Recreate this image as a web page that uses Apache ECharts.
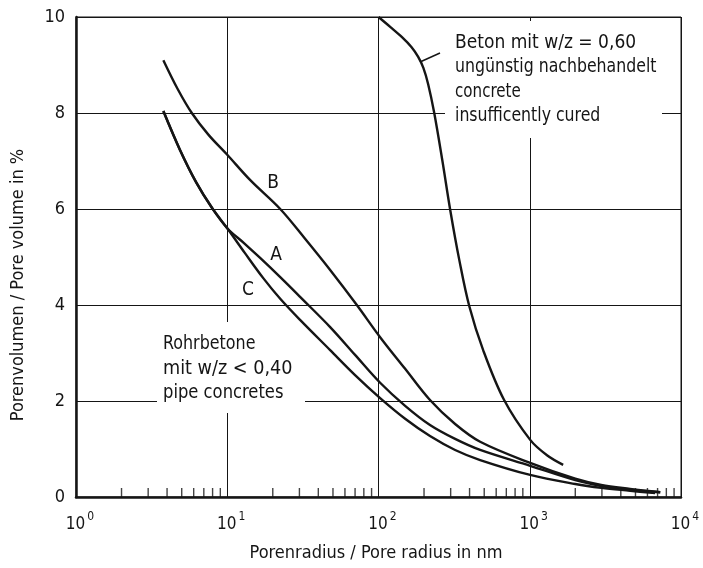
<!DOCTYPE html>
<html>
<head>
<meta charset="utf-8">
<script src="https://cdn.jsdelivr.net/npm/echarts@6/dist/echarts.min.js"></script>
<style>
html,body{margin:0;padding:0;background:#fff;}
#chart{width:703px;height:568px;}
</style>
</head>
<body>
<div id="chart"></div>
<script>
// ---- data (pore radius in nm, pore volume in %) ----
const radiusB = [3.78, 4.7, 5.83, 7.5, 10, 14.2, 22.4, 32.7, 47.9, 71.9, 102.5, 150, 219, 321, 470, 1006, 2000, 2970, 4610, 7290];
const volumeB = [9.10, 8.5, 8.0, 7.55, 7.13, 6.60, 6.0, 5.38, 4.73, 4.0, 3.33, 2.67, 2.02, 1.52, 1.15, 0.71, 0.38, 0.25, 0.17, 0.10];

const radiusA = [3.78, 4.87, 6.22, 7.94, 10, 12.9, 16.5, 22.4, 30.3, 47.9, 70, 102.5, 150, 219, 321, 470, 1006, 2000, 2970, 4610, 7290];
const volumeA = [8.04, 7.23, 6.56, 6.02, 5.6, 5.29, 4.98, 4.58, 4.17, 3.54, 2.96, 2.38, 1.90, 1.50, 1.21, 0.98, 0.65, 0.35, 0.23, 0.15, 0.10];

const radiusC = [3.78, 4.87, 6.22, 7.94, 10, 13.1, 17.3, 22.4, 30.3, 47.9, 70, 102.5, 150, 219, 321, 470, 1006, 2000, 2970, 4610, 6750];
const volumeC = [8.04, 7.23, 6.56, 6.02, 5.6, 5.08, 4.56, 4.13, 3.69, 3.06, 2.54, 2.06, 1.63, 1.27, 0.98, 0.77, 0.46, 0.27, 0.19, 0.13, 0.08];

const radiusD = [100, 120, 143, 165, 183, 198, 213, 233, 264, 298, 342, 398, 492, 677, 1007, 1300, 1663];
const volumeD = [10, 9.79, 9.58, 9.375, 9.17, 8.94, 8.6, 8.02, 7.02, 5.98, 4.94, 3.98, 3.06, 2.02, 1.19, 0.87, 0.67];

const minorTickRadii = [2,3,4,5,6,7,8,9, 20,30,40,50,60,70,80,90, 200,300,400,500,600,700,800,900, 2000,3000,4000,5000,6000,7000,8000,9000];

const yTicks = [0, 2, 4, 6, 8, 10];
const xTitle = 'Porenradius / Pore radius in nm';
const yTitle = 'Porenvolumen / Pore volume in %';
const noteBeton = ['Beton mit w/z = 0,60', 'ungünstig nachbehandelt', 'concrete', 'insufficently cured'];
const notePipe = ['Rohrbetone', 'mit w/z < 0,40', 'pipe concretes'];
const curveLabels = ['A', 'B', 'C'];

// ---- build ----
const pairs = (xs, ys) => xs.map((x, i) => [x, ys[i]]);
const INK = '#151515';
const FONT = "'DejaVu Sans Condensed', sans-serif";

const lineSeries = (name, data) => ({
  name, type: 'line', data, smooth: 0.35, showSymbol: false, symbol: 'none',
  lineStyle: { color: INK, width: 2.4 }, z: 3, clip: false
});

// per-line horizontal squeeze so the condensed face matches the original lettering widths
const betonScale = [0.95, 0.875, 0.84, 0.875];
const pipeScale = [0.885, 0.98, 0.91];
const noteLines = (lines, scales, x, yCenter0, step) => lines.map((t, i) => ({
  type: 'text', x, y: yCenter0 + i * step, scaleX: scales[i], z: 5,
  style: { text: t, font: '20px ' + FONT, fill: INK, verticalAlign: 'middle', align: 'left' }
}));

const chart = echarts.init(document.getElementById('chart'), null, { renderer: 'canvas' });
chart.setOption({
  animation: false,
  backgroundColor: '#fff',
  grid: { left: 76, right: 22, top: 17, bottom: 71, show: true, borderColor: INK, borderWidth: 1, backgroundColor: 'transparent' },
  xAxis: {
    type: 'log', logBase: 10, min: 1, max: 10000,
    axisLine: { show: true, lineStyle: { color: INK, width: 2.5 } },
    axisTick: { show: false },
    splitLine: { show: true, lineStyle: { color: INK, width: 1 } },
    axisLabel: {
      margin: 14,
      padding: [0, 0, 0, 8],
      formatter: v => '{b|10}{s|' + Math.round(Math.log10(v)) + '}',
      rich: {
        b: { fontFamily: FONT, fontSize: 17, color: INK, lineHeight: 22, verticalAlign: 'bottom' },
        s: { fontFamily: FONT, fontSize: 12, color: INK, lineHeight: 22, verticalAlign: 'top', padding: [0, 0, 0, 2] }
      }
    }
  },
  yAxis: {
    type: 'value', min: yTicks[0], max: yTicks[yTicks.length - 1], interval: 2,
    axisLine: { show: true, lineStyle: { color: INK, width: 2.5 } },
    axisTick: { show: false },
    splitLine: { show: true, lineStyle: { color: INK, width: 1 } },
    axisLabel: { margin: 11, fontFamily: FONT, fontSize: 18, color: INK }
  },
  series: [
    lineSeries('A', pairs(radiusA, volumeA)),
    lineSeries('B', pairs(radiusB, volumeB)),
    lineSeries('C', pairs(radiusC, volumeC)),
    lineSeries('Beton w/z 0,60', pairs(radiusD, volumeD)),
    {
      name: 'minor ticks', type: 'scatter', data: minorTickRadii.map(r => [r, 0]),
      symbol: 'rect', symbolSize: [1.4, 9], symbolOffset: [0, -4.5],
      itemStyle: { color: INK }, z: 4, clip: false, silent: true
    }
  ],
  graphic: [
    // paper-white masks where the grid is interrupted by the annotations
    { type: 'rect', shape: { x: 445, y: 21, width: 217, height: 117 }, style: { fill: '#fff' }, z: 1, silent: true },
    { type: 'rect', shape: { x: 157, y: 322, width: 148, height: 91 }, style: { fill: '#fff' }, z: 1, silent: true },
    ...noteLines(noteBeton, betonScale, 455, 42.75, 24.5),
    ...noteLines(notePipe, pipeScale, 163, 344.2, 24.2),
    { type: 'line', shape: { x1: 420, y1: 62, x2: 440, y2: 53 }, style: { stroke: INK, lineWidth: 1.5 }, z: 5 },
    { type: 'text', x: 276, y: 255, z: 5, style: { text: curveLabels[0], font: '19px ' + FONT, fill: INK, align: 'center', verticalAlign: 'middle' } },
    { type: 'text', x: 273, y: 183, z: 5, style: { text: curveLabels[1], font: '19px ' + FONT, fill: INK, align: 'center', verticalAlign: 'middle' } },
    { type: 'text', x: 248, y: 290, z: 5, style: { text: curveLabels[2], font: '19px ' + FONT, fill: INK, align: 'center', verticalAlign: 'middle' } },
    { type: 'text', x: 376, y: 553, z: 5, style: { text: xTitle, font: '18px ' + FONT, fill: INK, align: 'center', verticalAlign: 'middle' } },
    { type: 'text', x: 18, y: 285, rotation: Math.PI / 2, z: 5, style: { text: yTitle, font: '18px ' + FONT, fill: INK, align: 'center', verticalAlign: 'middle' } }
  ]
});
</script>
</body>
</html>
